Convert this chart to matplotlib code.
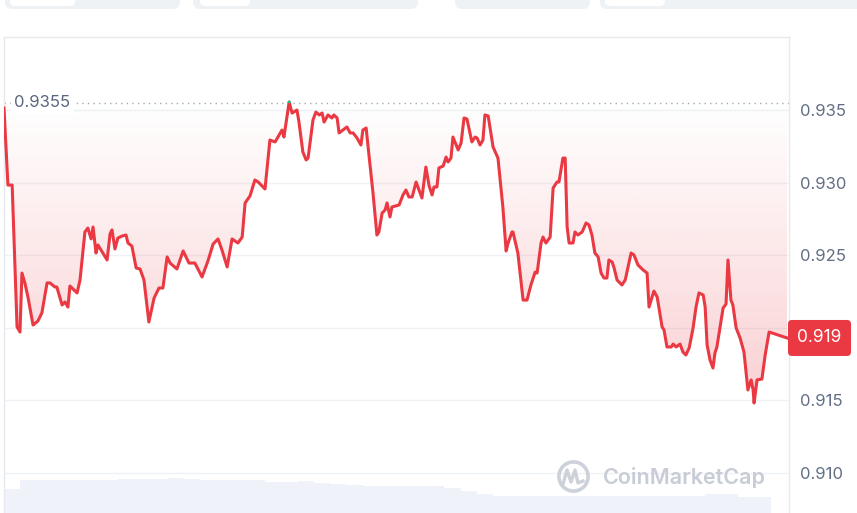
#---- Imports ----------------------------------------------------------------#

import numpy as np                                  #For the gradient image
import matplotlib
matplotlib.use('Agg')                               #No display here
import matplotlib.pyplot as plt                     #For plotting
from matplotlib.patches import FancyBboxPatch, Rectangle
from matplotlib.lines import Line2D
from matplotlib.transforms import IdentityTransform

plt.rcParams['font.family'] = ['Inter', 'DejaVu Sans']

#---- Data -------------------------------------------------------------------#

#Hours since the start of the 24h window
hours = [0.00, 0.12, 0.25, 0.40, 0.49, 0.55, 0.64, 0.74, 0.89, 1.04, 1.16,
         1.32, 1.41, 1.56, 1.62, 1.78, 1.87, 1.96, 2.02, 2.24, 2.33, 2.48,
         2.57, 2.67, 2.73, 2.82, 2.88, 3.16, 3.25, 3.31, 3.40, 3.49, 3.62,
         3.74, 3.80, 3.92, 4.05, 4.17, 4.29, 4.44, 4.60, 4.75, 4.87, 5.00,
         5.09, 5.30, 5.49, 5.67, 5.85, 6.07, 6.25, 6.41, 6.56, 6.68, 6.84,
         6.99, 7.17, 7.30, 7.39, 7.54, 7.69, 7.79, 8.00, 8.15, 8.31, 8.52,
         8.58, 8.74, 8.83, 8.98, 9.04, 9.16, 9.26, 9.32, 9.47, 9.56, 9.66,
         9.75, 9.81, 9.93, 10.05, 10.11, 10.21, 10.27, 10.51, 10.61, 10.70,
         10.82, 10.94, 11.00, 11.10, 11.16, 11.31, 11.43, 11.49, 11.59,
         11.68, 11.74, 11.83, 11.89, 12.11, 12.23, 12.32, 12.41, 12.51,
         12.63, 12.81, 12.93, 13.03, 13.12, 13.18, 13.27, 13.33, 13.46,
         13.55, 13.61, 13.70, 13.76, 13.92, 14.01, 14.10, 14.19, 14.34,
         14.44, 14.50, 14.59, 14.68, 14.74, 14.84, 14.99, 15.14, 15.29,
         15.39, 15.45, 15.57, 15.60, 15.75, 15.91, 16.03, 16.15, 16.28,
         16.34, 16.46, 16.52, 16.61, 16.74, 16.83, 16.95, 17.01, 17.13,
         17.20, 17.26, 17.32, 17.44, 17.50, 17.59, 17.72, 17.84, 17.93,
         18.02, 18.11, 18.21, 18.30, 18.39, 18.48, 18.54, 18.64, 18.70,
         18.79, 18.94, 19.04, 19.22, 19.31, 19.43, 19.59, 19.71, 19.77,
         19.92, 20.02, 20.17, 20.23, 20.32, 20.45, 20.51, 20.60, 20.72,
         20.81, 20.90, 21.00, 21.12, 21.21, 21.30, 21.43, 21.49, 21.55,
         21.64, 21.73, 21.79, 21.85, 22.04, 22.13, 22.19, 22.28, 22.34,
         22.44, 22.56, 22.68, 22.80, 22.90, 22.96, 22.99, 23.08, 23.23,
         23.33, 23.45, 24.00]

#Price in USD
price = [0.93514, 0.92983, 0.92983, 0.92006, 0.91971, 0.92377, 0.92309,
         0.92205, 0.92019, 0.92047, 0.92102, 0.92309, 0.92309, 0.92281,
         0.92281, 0.92157, 0.92178, 0.92143, 0.92288, 0.92240, 0.92329,
         0.92660, 0.92687, 0.92612, 0.92694, 0.92515, 0.92570, 0.92467,
         0.92646, 0.92674, 0.92543, 0.92618, 0.92632, 0.92639, 0.92584,
         0.92563, 0.92412, 0.92405, 0.92329, 0.92040, 0.92205, 0.92274,
         0.92274, 0.92488, 0.92446, 0.92405, 0.92529, 0.92446, 0.92446,
         0.92350, 0.92460, 0.92577, 0.92612, 0.92536, 0.92419, 0.92612,
         0.92584, 0.92625, 0.92860, 0.92908, 0.93018, 0.93004, 0.92956,
         0.93293, 0.93280, 0.93362, 0.93314, 0.93555, 0.93479, 0.93500,
         0.93417, 0.93211, 0.93156, 0.93169, 0.93431, 0.93486, 0.93466,
         0.93479, 0.93417, 0.93466, 0.93445, 0.93466, 0.93445, 0.93342,
         0.93383, 0.93342, 0.93342, 0.93307, 0.93259, 0.93362, 0.93376,
         0.93245, 0.92928, 0.92639, 0.92660, 0.92791, 0.92811, 0.92860,
         0.92763, 0.92832, 0.92846, 0.92915, 0.92949, 0.92901, 0.92901,
         0.93004, 0.92894, 0.93107, 0.92977, 0.92915, 0.92970, 0.92970,
         0.93101, 0.93114, 0.93176, 0.93142, 0.93169, 0.93314, 0.93225,
         0.93273, 0.93445, 0.93438, 0.93280, 0.93314, 0.93307, 0.93259,
         0.93293, 0.93466, 0.93459, 0.93245, 0.93169, 0.92832, 0.92529,
         0.92584, 0.92660, 0.92660, 0.92515, 0.92191, 0.92191, 0.92295,
         0.92384, 0.92377, 0.92584, 0.92625, 0.92584, 0.92625, 0.92963,
         0.93004, 0.93004, 0.93169, 0.93169, 0.92694, 0.92584, 0.92584,
         0.92660, 0.92639, 0.92660, 0.92722, 0.92708, 0.92639, 0.92515,
         0.92488, 0.92377, 0.92343, 0.92343, 0.92467, 0.92453, 0.92412,
         0.92329, 0.92295, 0.92329, 0.92515, 0.92501, 0.92433, 0.92398,
         0.92377, 0.92143, 0.92253, 0.92212, 0.92006, 0.91985, 0.91868,
         0.91868, 0.91888, 0.91868, 0.91888, 0.91833, 0.91813, 0.91861,
         0.91999, 0.92143, 0.92240, 0.92226, 0.92143, 0.91882, 0.91778,
         0.91723, 0.91826, 0.91868, 0.92136, 0.92164, 0.92467, 0.92191,
         0.92157, 0.91999, 0.91930, 0.91833, 0.91572, 0.91641, 0.91572,
         0.91482, 0.91641, 0.91647, 0.91813, 0.91971, 0.91930]

open_price = 0.9355                                 #Reference (dotted) line
open_label = '0.9355'
last_label = '0.919'

y_ticks = [0.910, 0.915, 0.920, 0.925, 0.930, 0.935]
y_tick_labels = ['0.910', '0.915', '', '0.925', '0.930', '0.935']

#Volume per half hour (relative units)
vol_hours = [i * 0.5 for i in range(48)]
volume = [2.4, 3.3, 3.3, 3.3, 3.3, 3.3, 3.3, 3.4, 3.4, 3.4, 3.5, 3.4,
          3.3, 3.3, 3.3, 3.3, 3.1, 3.1, 3.2, 3.0, 2.9, 2.8, 2.7, 2.7,
          2.7, 2.7, 2.7, 2.5, 2.2, 1.9, 1.7, 1.7, 1.7, 1.7, 1.7, 1.7,
          1.7, 1.7, 1.7, 1.7, 1.7, 1.7, 1.7, 1.9, 1.9, 1.6, 1.6, 0.0]

#---- Styles -----------------------------------------------------------------#

red = '#ea3943'
green = '#16c784'
grey_txt = '#616e84'
grid_c = '#eff2f5'
W, H = 857, 513

#---- Plotting ---------------------------------------------------------------#

fig = plt.figure(figsize=(W / 100, H / 100), dpi=100)
fig.patch.set_facecolor('white')

#Volume strip along the bottom
axv = fig.add_axes([4 / W, 0, 785 / W, 50 / H], zorder=0)
axv.bar(vol_hours, volume, width=0.5, align='edge', color='#f0f2f9', lw=0)
axv.set_xlim(0, 24.06)
axv.set_ylim(0, 5)
axv.axis('off')

#Main price axes
ax = fig.add_axes([4 / W, 0, 785 / W, 476 / H], zorder=1)
ax.patch.set_alpha(0)

#Gradient fill between the line and the open price
fill = ax.fill_between(hours, price, open_price, color='none', lw=0)
grad = np.zeros((256, 1, 4))
grad[:, 0, :3] = matplotlib.colors.to_rgb(red)
grad[:, 0, 3] = np.linspace(0.24, 0.0, 256)
im = ax.imshow(grad, extent=[0, 24.06, 0.9145, open_price], origin='lower',
               aspect='auto', zorder=1, interpolation='bilinear')
im.set_clip_path(fill.get_paths()[0], transform=ax.transData)

#Price line, green where it pokes above the open price
ax.plot(hours, price, color=red, lw=2.2, zorder=3, solid_joinstyle='round')
up = ax.plot(hours, price, color=green, lw=2.2, zorder=3)[0]
up.set_clip_path(Rectangle((0, open_price), 25, 0.01,
                           transform=ax.transData))

#Dotted open price line and its label
ax.axhline(open_price, color='#a2aab7', lw=1, ls=(0, (1, 3)), zorder=2)
ax.text(0.31, open_price, open_label, color='#58667e', fontsize=12,
        va='center', ha='left', zorder=4,
        bbox=dict(facecolor='white', edgecolor='none', pad=2.5))

ax.set_xlim(0, 24.06)
ax.set_ylim(0.907245, 0.940028)

#Axis, grid and frame
ax.set_xticks([])
ax.set_yticks(y_ticks)
ax.set_yticklabels(y_tick_labels)
ax.yaxis.tick_right()
ax.tick_params(axis='y', length=0, pad=8, labelsize=12, labelcolor=grey_txt)
ax.yaxis.grid(True, color=grid_c, lw=1)
ax.set_axisbelow(True)
for s in ['top', 'left', 'right']:
    ax.spines[s].set_color('#e6e9ee')
    ax.spines[s].set_linewidth(1)
ax.spines['bottom'].set_visible(False)

#Last price tag on the right axis
ylast = ax.transData.transform((0, price[-1]))[1]
tag = FancyBboxPatch((788, ylast - 18), 63, 36,
                     boxstyle='round,pad=0,rounding_size=4',
                     transform=IdentityTransform(), facecolor=red,
                     edgecolor='none', zorder=5)
fig.add_artist(tag)
fig.text(819.5 / W, ylast / H, last_label, color='white', fontsize=12.5,
         ha='center', va='center', zorder=6)

#Watermark
fig.add_artist(Line2D([573], [H - 476], marker='o', markersize=21,
                      mfc='none', mec='#cdd1da', mew=2.6,
                      transform=IdentityTransform()))
fig.add_artist(Line2D([563, 567, 571, 575, 578, 583],
                      [H - 484, H - 470, H - 482, H - 470, H - 483, H - 481],
                      color='#cdd1da', lw=2.4, solid_joinstyle='round',
                      transform=IdentityTransform()))
fig.text(603 / W, (H - 477) / H, 'CoinMarketCap', color='#c8ccd6',
         fontsize=15.5, fontweight='semibold', ha='left', va='center')

#Bits of the tab bar above the chart
for x0, x1 in [(5, 180), (193, 418), (455, 590), (600, 870)]:
    fig.add_artist(FancyBboxPatch((x0, H - 9), x1 - x0, 20,
                                  boxstyle='round,pad=0,rounding_size=7',
                                  transform=IdentityTransform(),
                                  facecolor='#eff2f5', edgecolor='none'))
for x0, x1 in [(10, 75), (200, 250), (605, 665)]:
    fig.add_artist(FancyBboxPatch((x0, H - 6), x1 - x0, 20,
                                  boxstyle='round,pad=0,rounding_size=5',
                                  transform=IdentityTransform(),
                                  facecolor='white', edgecolor='none'))

plt.savefig('out.png', dpi=100)                     #Save the Figure
